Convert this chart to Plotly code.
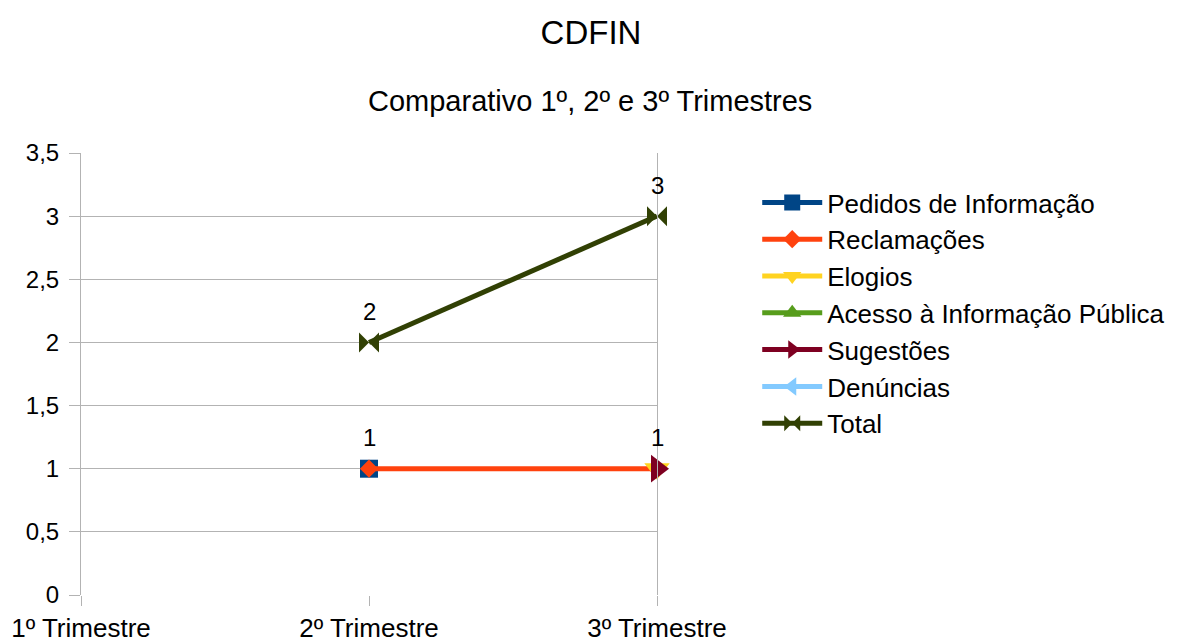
import plotly.graph_objects as go

# Chart data
quarters = ["1º Trimestre", "2º Trimestre", "3º Trimestre"]
pedidos = [None, 1, None]
reclamacoes = [None, 1, 1]
elogios = [None, None, 1]
acesso = [None, None, None]
sugestoes = [None, None, 1]
denuncias = [None, None, None]
total = [None, 2, 3]

series = [
    ("Pedidos de Informação", pedidos, "#004586", "square", 18),
    ("Reclamações", reclamacoes, "#ff420e", "diamond", 14),
    ("Elogios", elogios, "#ffd320", "triangle-down", 22),
    ("Acesso à Informação Pública", acesso, "#579d1c", "triangle-up", 22),
    ("Sugestões", sugestoes, "#7e0021", "triangle-right", 24),
    ("Denúncias", denuncias, "#83caff", "triangle-left", 22),
    ("Total", total, "#314004", "bowtie", 20),
]

font = "Liberation Sans, Arial, sans-serif"

# page body has an 8px margin, so the figure is 8px smaller than the window
W, H = 1169, 634

fig = go.Figure()
for name, vals, color, symbol, msize in series:
    fig.add_trace(go.Scatter(
        x=quarters, y=vals, name=name, mode="lines+markers",
        line=dict(color=color, width=5),
        marker=dict(symbol=symbol, size=msize, color=color),
        cliponaxis=False,
    ))

# data labels (one per point, as in the original)
labels = []
for vals in (reclamacoes, total):
    for q, v in zip(quarters, vals):
        if v is not None:
            labels.append(dict(x=q, y=v, xref="x", yref="y", text=str(v),
                               showarrow=False, yshift=31, yanchor="middle",
                               font=dict(size=24, family=font)))

labels.append(dict(text="Comparativo 1º, 2º e 3º Trimestres",
                   xref="paper", yref="paper",
                   x=(582 - 73) / 576, y=1 + 52 / 442,
                   xanchor="center", yanchor="middle", showarrow=False,
                   font=dict(size=29, family=font)))

fig.update_layout(
    width=W, height=H,
    paper_bgcolor="white", plot_bgcolor="white",
    font=dict(family=font, size=24, color="#000000"),
    separators=",.",
    margin=dict(l=73, r=520, t=145, b=47, autoexpand=False),
    title=dict(text="CDFIN", x=583 / W, xanchor="center",
               y=1 - 24 / H, yanchor="middle",
               font=dict(size=33, family=font)),
    annotations=labels,
    legend=dict(x=1.174, y=(587 - 171) / 442, xanchor="left", yanchor="top",
                font=dict(size=26, family=font), itemwidth=60,
                bgcolor="rgba(0,0,0,0)"),
    showlegend=True,
)

fig.update_xaxes(
    type="category", range=[0, 2], showgrid=False,
    ticks="outside", ticklen=10, tickcolor="#b3b3b3",
    showline=False, zeroline=False, automargin=False,
    tickfont=dict(size=26), fixedrange=True,
)
fig.update_yaxes(
    range=[0, 3.5], dtick=0.5, showgrid=True, gridcolor="#b3b3b3", gridwidth=1,
    showline=True, linecolor="#b3b3b3", mirror=True,
    ticks="outside", ticklen=11, tickcolor="#b3b3b3", automargin=False,
    ticklabelstandoff=5,
    zeroline=False, tickfont=dict(size=24),
)

fig.write_html("out.html")
